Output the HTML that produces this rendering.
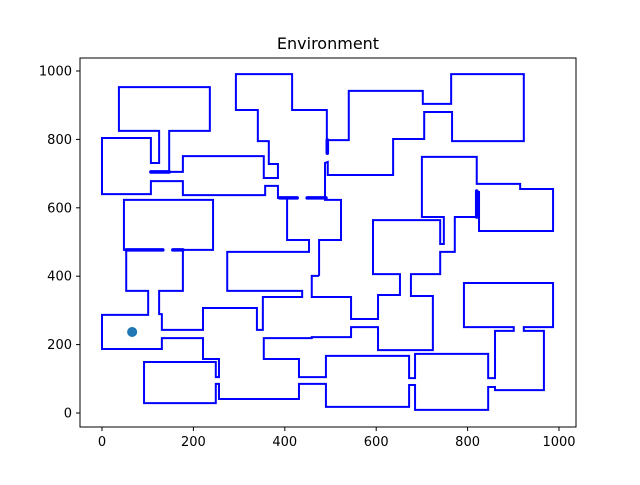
<!DOCTYPE html>
<html><head><meta charset="utf-8"><style>
body{margin:0;background:#fff;}
svg text{font-family:"DejaVu Sans","Liberation Sans",sans-serif;}
</style></head><body>
<svg id="chart" width="640" height="480" viewBox="0 0 640 480" xmlns="http://www.w3.org/2000/svg">
<rect width="640" height="480" fill="#fff"/>
<text x="328" y="49" text-anchor="middle" font-size="16">Environment</text>
<g id="walls"></g>
<g id="axes"></g>
</svg>
<script>
const xTicks=[0,200,400,600,800,1000];
const yTicks=[0,200,400,600,800,1000];
const wallLines=[
[[492,760],[492,886],[416,886],[416,991],[293,991],[293,886],[341,886],[341,795],[365,795],[365,728],[385,728],[385,687],[354,687],[354,751],[177,751],[177,705],[147,705]],
[[147,705],[147,825],[236,825],[236,953],[37,953],[37,825],[125,825],[125,731],[107,731],[107,804],[0,804],[0,640],[107,640],[107,678],[177,678],[177,637],[357,637],[357,664],[385,664],[385,629],[427,629]],
[[405,629],[405,506],[453,506],[453,471],[274,471],[274,357],[438,357],[438,339],[352,339],[352,243],[339,243],[339,307],[221,307],[221,243],[131,243],[131,289],[125,289],[125,357],[177,357],[177,477]],
[[133,477],[48,477],[48,623],[243,623],[243,477],[155,477]],
[[53,477],[53,357],[101,357],[101,287],[0,287],[0,187],[131,187],[131,219],[221,219],[221,158],[256,158],[256,105],[249,105],[249,149],[92,149],[92,29],[249,29],[249,85],[256,85],[256,41],[431,41],[431,85],[490,85],[490,18],[672,18],[672,82],[685,82],[685,9],[845,9],[845,76],[860,76],[860,67],[967,67],[967,240],[923,240],[923,251],[987,251],[987,380],[792,380],[792,251],[901,251],[901,240],[860,240],[860,102],[845,102],[845,173],[685,173],[685,102],[672,102],[672,167],[490,167],[490,105],[431,105],[431,158],[354,158],[354,219],[459,219],[459,222],[545,222],[545,251],[604,251],[604,184],[724,184],[724,342],[676,342],[676,406],[740,406],[740,471],[772,471],[772,573],[820,573]],
[[475,401],[475,506],[523,506],[523,623],[488,623],[488,731],[494,734],[494,696],[637,696],[637,801],[705,801],[705,880],[766,880],[766,795],[923,795],[923,991],[764,991],[764,904],[702,904],[702,942],[540,942],[540,798],[494,798]],
[[475,401],[459,401],[459,339],[545,339],[545,275],[604,275],[604,345],[652,345],[652,406],[593,406],[593,564],[740,564],[740,494],[748,494],[748,573],[700,573],[700,749],[820,749],[820,670],[915,670],[915,655],[987,655],[987,532],[825,532],[825,649]]
];
const doorLines=[
[[107,705],[147,705]],[[389,629],[427,629]],[[449,629],[490,629]],[[493,760],[493,798]],
[[53,477],[133,477]],[[155,477],[177,477]],[[820,573],[820,649]]
];
const agentX=[66];
const agentY=[237];
const NS="http://www.w3.org/2000/svg";
const X=d=>102+d*0.457;
const Y=d=>413-d*0.342;
const walls=document.getElementById('walls');
function pts(line){return line.map(p=>X(p[0]).toFixed(2)+','+Y(p[1]).toFixed(2)).join(' ');}
wallLines.forEach((line,i)=>{
  const pl=document.createElementNS(NS,'polyline');
  pl.setAttribute('points',pts(line));
  pl.setAttribute('fill','none');pl.setAttribute('stroke','#0000ff');pl.setAttribute('stroke-width','2');
  pl.setAttribute('stroke-linejoin','miter');
  
  
  walls.appendChild(pl);
});
doorLines.forEach(line=>{
  const pl=document.createElementNS(NS,'polyline');
  pl.setAttribute('points',pts(line));
  pl.setAttribute('fill','none');pl.setAttribute('stroke','#0000ff');pl.setAttribute('stroke-width','3.6');
  pl.setAttribute('stroke-linecap','round');
  
  
  walls.appendChild(pl);
});
agentX.forEach((ax,i)=>{
  const c=document.createElementNS(NS,'circle');
  c.setAttribute('cx',X(ax));c.setAttribute('cy',Y(agentY[i]));c.setAttribute('r','5');c.setAttribute('fill','#1f77b4');
  
  
  walls.appendChild(c);
});
const axes=document.getElementById('axes');
const frame=document.createElementNS(NS,'rect');
frame.setAttribute('x',80);frame.setAttribute('y',58);frame.setAttribute('width',496);frame.setAttribute('height',369);
frame.setAttribute('fill','none');frame.setAttribute('stroke','#000');frame.setAttribute('stroke-width','1');


axes.appendChild(frame);
xTicks.forEach(t=>{
  const l=document.createElementNS(NS,'line');
  l.setAttribute('x1',X(t));l.setAttribute('x2',X(t));l.setAttribute('y1',427);l.setAttribute('y2',431);l.setAttribute('stroke','#000');
  
  
  axes.appendChild(l);
  const tx=document.createElementNS(NS,'text');
  tx.setAttribute('x',X(t));tx.setAttribute('y',446);tx.setAttribute('text-anchor','middle');tx.setAttribute('font-size','13');
  tx.textContent=t;
  
  
  axes.appendChild(tx);
});
yTicks.forEach(t=>{
  const l=document.createElementNS(NS,'line');
  l.setAttribute('x1',76);l.setAttribute('x2',80);l.setAttribute('y1',Y(t));l.setAttribute('y2',Y(t));l.setAttribute('stroke','#000');
  
  
  axes.appendChild(l);
  const tx=document.createElementNS(NS,'text');
  tx.setAttribute('x',72);tx.setAttribute('y',Y(t)+4.5);tx.setAttribute('text-anchor','end');tx.setAttribute('font-size','13');
  tx.textContent=t;
  
  
  axes.appendChild(tx);
});
</script>
</body></html>
